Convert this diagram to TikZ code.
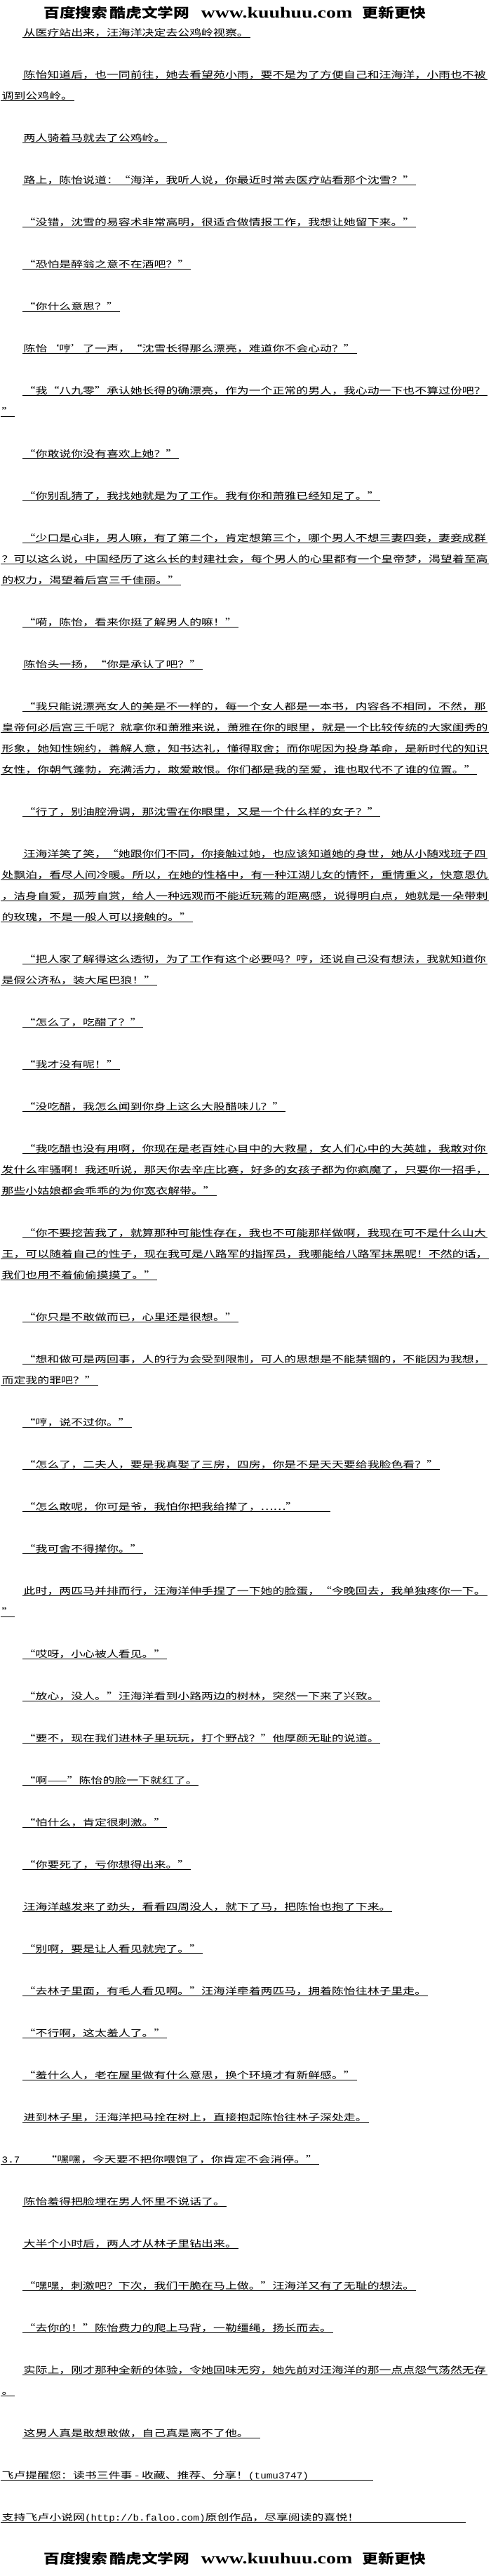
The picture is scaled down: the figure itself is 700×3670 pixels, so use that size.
\documentclass[tikz,border=0pt]{standalone}
\usepackage{fontspec}
\newfontfamily\bodyfont{Noto Sans CJK SC}[FakeStretch=1.3]
\newfontfamily\headfont{Noto Sans CJK SC}[FakeStretch=1.2]
\newfontfamily\webfont{Liberation Serif}[FakeStretch=1.27]
\newfontfamily\halfmono{Liberation Mono}[FakeStretch=1.1]
\newcommand{\asc}[1]{{\halfmono #1}}
\tikzset{
  uline/.style = {draw=black, line width=1pt},
  para/.style = {anchor=base west, inner xsep=1.5pt, inner ysep=0pt,
    text depth=2.5pt, font=\bodyfont\fontsize{13}{13}\selectfont,
    append after command={(\tikzlastnode.south west) edge[uline] (\tikzlastnode.south east)}},% ligne soulignee
  head/.style = {anchor=base, inner sep=0pt,
    font=\headfont\bfseries\fontsize{19}{19}\selectfont}% bandeau du site
}

\begin{document}
\begin{tikzpicture}[x=1pt,y=1pt]
\path[use as bounding box, fill=white] (0,0) rectangle (700,-3670);

\node [head] (top) at (335,-25) {百度搜索\hspace{3pt}酷虎文学网\hspace{16pt}{\webfont\fontsize{22}{22}\selectfont www.kuuhuu.com}\hspace{14pt}更新更快};

\node [para] (l1) at (32,-51) {从医疗站出来，汪海洋决定去公鸡岭视察。};
\node [para] (l3) at (32,-111) {陈怡知道后，也一同前往，她去看望苑小雨，要不是为了方便自己和汪海洋，小雨也不被};
\node [para] (l4) at (1,-141) {调到公鸡岭。};
\node [para] (l6) at (32,-201) {两人骑着马就去了公鸡岭。};
\node [para] (l8) at (32,-261) {路上，陈怡说道：“海洋，我听人说，你最近时常去医疗站看那个沈雪？”};
\node [para] (l10) at (32,-321) {“没错，沈雪的易容术非常高明，很适合做情报工作，我想让她留下来。”};
\node [para] (l12) at (32,-381) {“恐怕是醉翁之意不在酒吧？”};
\node [para] (l14) at (32,-441) {“你什么意思？”};
\node [para] (l16) at (32,-501) {陈怡‘哼’了一声，“沈雪长得那么漂亮，难道你不会心动？”};
\node [para] (l18) at (32,-561) {“我“八九零”承认她长得的确漂亮，作为一个正常的男人，我心动一下也不算过份吧？};
\node [para] (l19) at (1,-591) {”};
\node [para] (l21) at (32,-651) {“你敢说你没有喜欢上她？”};
\node [para] (l23) at (32,-711) {“你别乱猜了，我找她就是为了工作。我有你和萧雅已经知足了。”};
\node [para] (l25) at (32,-771) {“少口是心非，男人嘛，有了第二个，肯定想第三个，哪个男人不想三妻四妾，妻妾成群};
\node [para] (l26) at (1,-801) {？可以这么说，中国经历了这么长的封建社会，每个男人的心里都有一个皇帝梦，渴望着至高};
\node [para] (l27) at (1,-831) {的权力，渴望着后宫三千佳丽。”};
\node [para] (l29) at (32,-891) {“嗬，陈怡，看来你挺了解男人的嘛！”};
\node [para] (l31) at (32,-951) {陈怡头一扬，“你是承认了吧？”};
\node [para] (l33) at (32,-1011) {“我只能说漂亮女人的美是不一样的，每一个女人都是一本书，内容各不相同，不然，那};
\node [para] (l34) at (1,-1041) {皇帝何必后宫三千呢？就拿你和萧雅来说，萧雅在你的眼里，就是一个比较传统的大家闺秀的};
\node [para] (l35) at (1,-1071) {形象，她知性婉约，善解人意，知书达礼，懂得取舍；而你呢因为投身革命，是新时代的知识};
\node [para] (l36) at (1,-1101) {女性，你朝气蓬勃，充满活力，敢爱敢恨。你们都是我的至爱，谁也取代不了谁的位置。”};
\node [para] (l38) at (32,-1161) {“行了，别油腔滑调，那沈雪在你眼里，又是一个什么样的女子？”};
\node [para] (l40) at (32,-1221) {汪海洋笑了笑，“她跟你们不同，你接触过她，也应该知道她的身世，她从小随戏班子四};
\node [para] (l41) at (1,-1251) {处飘泊，看尽人间冷暖。所以，在她的性格中，有一种江湖儿女的情怀，重情重义，快意恩仇};
\node [para] (l42) at (1,-1281) {，洁身自爱，孤芳自赏，给人一种远观而不能近玩蔫的距离感，说得明白点，她就是一朵带刺};
\node [para] (l43) at (1,-1311) {的玫瑰，不是一般人可以接触的。”};
\node [para] (l45) at (32,-1371) {“把人家了解得这么透彻，为了工作有这个必要吗？哼，还说自己没有想法，我就知道你};
\node [para] (l46) at (1,-1401) {是假公济私，装大尾巴狼！”};
\node [para] (l48) at (32,-1461) {“怎么了，吃醋了？”};
\node [para] (l50) at (32,-1521) {“我才没有呢！”};
\node [para] (l52) at (32,-1581) {“没吃醋，我怎么闻到你身上这么大股醋味儿？”};
\node [para] (l54) at (32,-1641) {“我吃醋也没有用啊，你现在是老百姓心目中的大救星，女人们心中的大英雄，我敢对你};
\node [para] (l55) at (1,-1671) {发什么牢骚啊！我还听说，那天你去辛庄比赛，好多的女孩子都为你疯魔了，只要你一招手，};
\node [para] (l56) at (1,-1701) {那些小姑娘都会乖乖的为你宽衣解带。”};
\node [para] (l58) at (32,-1761) {“你不要挖苦我了，就算那种可能性存在，我也不可能那样做啊，我现在可不是什么山大};
\node [para] (l59) at (1,-1791) {王，可以随着自己的性子，现在我可是八路军的指挥员，我哪能给八路军抹黑呢！不然的话，};
\node [para] (l60) at (1,-1821) {我们也用不着偷偷摸摸了。”};
\node [para] (l62) at (32,-1881) {“你只是不敢做而已，心里还是很想。”};
\node [para] (l64) at (32,-1941) {“想和做可是两回事，人的行为会受到限制，可人的思想是不能禁锢的，不能因为我想，};
\node [para] (l65) at (1,-1971) {而定我的罪吧？”};
\node [para] (l67) at (32,-2031) {“哼，说不过你。”};
\node [para] (l69) at (32,-2091) {“怎么了，二夫人，要是我真娶了三房，四房，你是不是天天要给我脸色看？”};
\node [para] (l71) at (32,-2151) {“怎么敢呢，你可是爷，我怕你把我给撵了，……”\hspace*{45pt}};
\node [para] (l73) at (32,-2211) {“我可舍不得撵你。”};
\node [para] (l75) at (32,-2271) {此时，两匹马并排而行，汪海洋伸手捏了一下她的脸蛋，“今晚回去，我单独疼你一下。};
\node [para] (l76) at (1,-2301) {”};
\node [para] (l78) at (32,-2361) {“哎呀，小心被人看见。”};
\node [para] (l80) at (32,-2421) {“放心，没人。”汪海洋看到小路两边的树林，突然一下来了兴致。};
\node [para] (l82) at (32,-2481) {“要不，现在我们进林子里玩玩，打个野战？”他厚颜无耻的说道。};
\node [para] (l84) at (32,-2541) {“啊——”陈怡的脸一下就红了。};
\node [para] (l86) at (32,-2601) {“怕什么，肯定很刺激。”};
\node [para] (l88) at (32,-2661) {“你要死了，亏你想得出来。”};
\node [para] (l90) at (32,-2721) {汪海洋越发来了劲头，看看四周没人，就下了马，把陈怡也抱了下来。};
\node [para] (l92) at (32,-2781) {“别啊，要是让人看见就完了。”};
\node [para] (l94) at (32,-2841) {“去林子里面，有毛人看见啊。”汪海洋牵着两匹马，拥着陈怡往林子里走。};
\node [para] (l96) at (32,-2901) {“不行啊，这太羞人了。”};
\node [para] (l98) at (32,-2961) {“羞什么人，老在屋里做有什么意思，换个环境才有新鲜感。”};
\node [para] (l100) at (32,-3021) {进到林子里，汪海洋把马拴在树上，直接抱起陈怡往林子深处走。};
\node [para] (l102) at (1,-3081) {\asc{3.7}\hspace*{36pt}“嘿嘿，今天要不把你喂饱了，你肯定不会消停。”};
\node [para] (l104) at (32,-3141) {陈怡羞得把脸埋在男人怀里不说话了。};
\node [para] (l106) at (32,-3201) {大半个小时后，两人才从林子里钻出来。};
\node [para] (l108) at (32,-3261) {“嘿嘿，刺激吧？下次，我们干脆在马上做。”汪海洋又有了无耻的想法。};
\node [para] (l110) at (32,-3321) {“去你的！”陈怡费力的爬上马背，一勒缰绳，扬长而去。};
\node [para] (l112) at (32,-3381) {实际上，刚才那种全新的体验，令她回味无穷，她先前对汪海洋的那一点点怨气荡然无存};
\node [para] (l113) at (1,-3411) {。};
\node [para] (l115) at (32,-3471) {这男人真是敢想敢做，自己真是离不了他。\hspace*{14pt}};
\node [para] (l117) at (1,-3531) {飞卢提醒您：读书三件事 - 收藏、推荐、分享！\asc{(tumu3747)}\hspace*{90pt}};
\node [para] (l119) at (1,-3591) {支持飞卢小说网\asc{(http://b.faloo.com)}原创作品，尽享阅读的喜悦！\hspace*{150pt}};

\node [head] (bottom) at (335,-3652) {百度搜索\hspace{3pt}酷虎文学网\hspace{16pt}{\webfont\fontsize{22}{22}\selectfont www.kuuhuu.com}\hspace{14pt}更新更快};
\end{tikzpicture}
\end{document}
